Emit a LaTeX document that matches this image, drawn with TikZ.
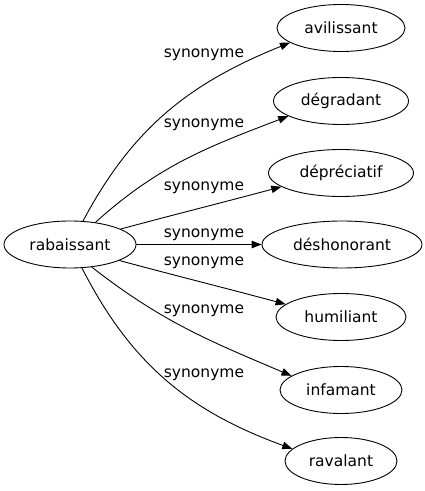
\documentclass[tikz,border=0pt]{standalone}
\usepackage{fontspec}
\setmainfont{DejaVu Sans}
\usetikzlibrary{shapes.geometric,arrows.meta}
\begin{document}
\begin{tikzpicture}[x=1pt,y=1pt,
  word/.style={ellipse, draw, line width=0.9pt, inner sep=0pt, minimum height=47pt, font=\fontsize{15.5}{18}\selectfont},
  lbl/.style={inner sep=0pt, font=\fontsize{15.5}{18}\selectfont},
  link/.style={line width=0.9pt, -{Triangle[length=10pt,width=7.5pt]}}]
\useasboundingbox (0,0) rectangle (425,491);
\node[word, minimum width=132pt] (c) at (70,246.5) {rabaissant};
\node[word, minimum width=128pt] (n1) at (341,463) {avilissant};
\node[word, minimum width=135pt] (n2) at (341,390) {dégradant};
\node[word, minimum width=145pt] (n3) at (341,318) {dépréciatif};
\node[word, minimum width=160pt] (n4) at (342,246.5) {déshonorant};
\node[word, minimum width=130pt] (n5) at (341,174) {humiliant};
\node[word, minimum width=122pt] (n6) at (341,101) {infamant};
\node[word, minimum width=112pt] (n7) at (341,30) {ravalant};
\draw[link] (c.61) to[out=62,in=202] (n1.196);
\draw[link] (c.41) to[out=42,in=201] (n2.196);
\draw[link] (c.17) to[out=15,in=195] (n3.193);
\draw[link] (c.0) -- (n4.180);
\draw[link] (c.-18) to[out=-15,in=165] (n5.167);
\draw[link] (c.-46) to[out=-38,in=157] (n6.164);
\draw[link] (c.-63) to[out=-63,in=160] (n7.166);
\node[lbl] (l1) at (204,436) {synonyme};
\node[lbl] (l2) at (204,366) {synonyme};
\node[lbl] (l3) at (204,303) {synonyme};
\node[lbl] (l4) at (204,256.5) {synonyme};
\node[lbl] (l5) at (204,228.5) {synonyme};
\node[lbl] (l6) at (204,180.5) {synonyme};
\node[lbl] (l7) at (204,116) {synonyme};
\end{tikzpicture}
\end{document}
